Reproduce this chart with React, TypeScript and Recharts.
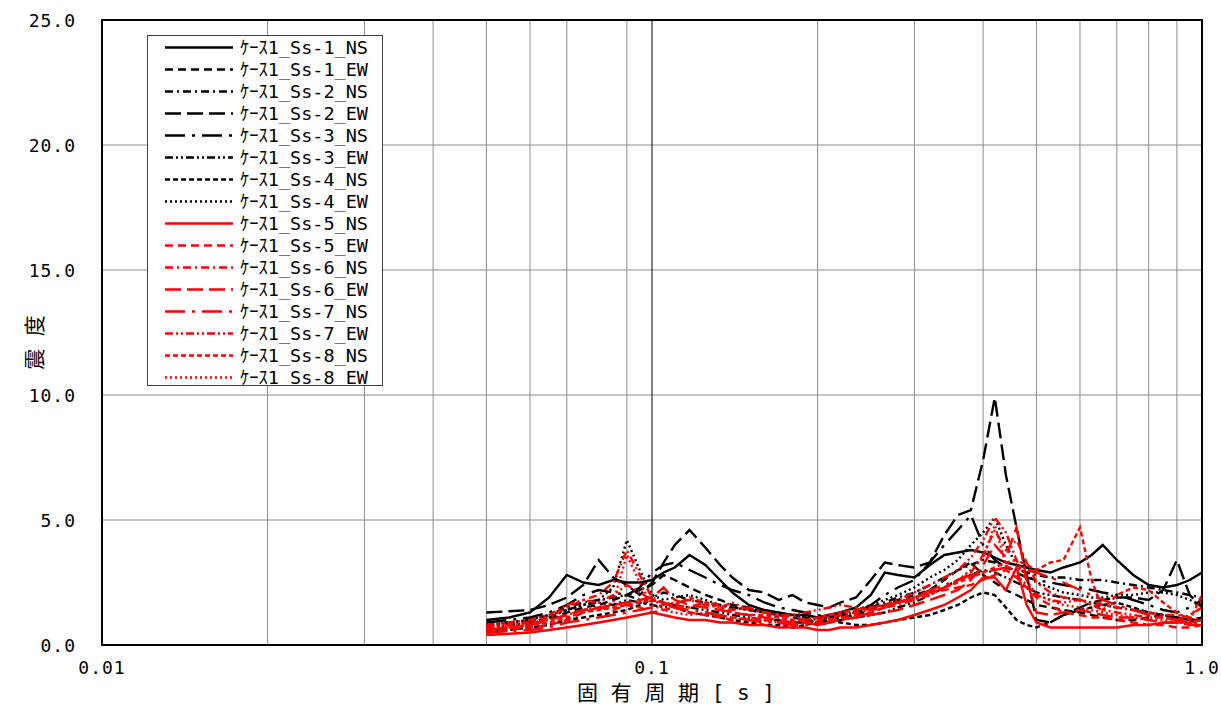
import { LineChart, Line, XAxis, YAxis, CartesianGrid, ReferenceLine, ReferenceArea, Legend } from 'recharts';

const periods = [
  0.05, 0.055, 0.06, 0.065, 0.07, 0.075, 0.08, 0.085, 0.09, 0.095,
  0.1, 0.105, 0.11, 0.117, 0.125, 0.133, 0.14, 0.15, 0.16, 0.17,
  0.18, 0.19, 0.2, 0.21, 0.22, 0.235, 0.25, 0.265, 0.28, 0.3,
  0.32, 0.34, 0.36, 0.38, 0.4, 0.42, 0.44, 0.46, 0.48, 0.5,
  0.53, 0.56, 0.6, 0.63, 0.66, 0.7, 0.75, 0.8, 0.85, 0.9,
  0.95, 1.0,
];

// black series
const ss1NS = [
  1.0, 1.1, 1.3, 1.9, 2.8, 2.5, 2.4, 2.6, 2.5, 2.5,
  2.6, 2.9, 3.1, 3.6, 3.2, 2.6, 2.1, 1.6, 1.4, 1.3,
  1.2, 1.2, 1.1, 1.2, 1.3, 1.5, 2.0, 2.9, 2.8, 2.7,
  3.2, 3.6, 3.7, 3.8, 3.7, 3.5, 3.3, 3.2, 3.1, 3.0,
  2.9, 3.1, 3.3, 3.6, 4.0, 3.4, 2.8, 2.4, 2.3, 2.4,
  2.6, 2.9,
];
const ss1EW = [
  0.6, 0.7, 0.8, 1.0, 1.3, 1.5, 1.6, 1.8, 2.0, 2.2,
  2.4, 2.8, 2.6, 2.3, 2.0, 1.8, 1.6, 1.5, 1.3, 1.2,
  1.1, 1.0, 0.9, 1.0, 1.1, 1.2, 1.4, 1.6, 1.8, 2.0,
  2.2, 2.6, 3.0, 3.3, 2.8, 2.5, 2.2, 2.0, 1.8, 1.6,
  1.5, 1.4, 1.3, 1.2, 1.1, 1.0, 1.0, 1.1, 1.2, 1.1,
  1.0, 1.0,
];
const ss2NS = [
  0.8, 0.9, 1.0, 1.2, 1.5, 1.7, 1.8, 1.9, 2.0, 1.8,
  1.9, 2.1, 2.0, 1.8, 1.7, 1.6, 1.5, 1.4, 1.3, 1.2,
  1.2, 1.1, 1.0, 1.1, 1.2, 1.3, 1.5, 1.7, 1.9, 2.1,
  2.4, 2.7, 3.0, 3.2, 3.4, 3.3, 3.1, 3.0, 2.9, 2.8,
  2.7, 2.7, 2.6, 2.6, 2.6, 2.5, 2.4, 2.3, 2.2, 2.1,
  2.0, 1.9,
];
const ss2EW = [
  1.3, 1.35, 1.4, 1.6, 1.9, 2.4, 3.4, 2.7, 2.4, 2.0,
  2.5, 3.3, 4.0, 4.6, 3.9, 3.2, 2.7, 2.2, 2.1, 1.8,
  2.0, 1.7, 1.6, 1.5, 1.7, 1.9, 2.6, 3.3, 3.2, 3.1,
  3.3, 4.4, 5.2, 5.4, 7.4, 9.9, 6.8, 4.7, 2.8, 1.0,
  0.9, 1.2, 1.5, 1.7, 1.8, 1.9, 1.9, 1.8, 2.2, 3.4,
  2.0, 1.5,
];
const ss3NS = [
  0.9, 1.0, 1.1, 1.3, 1.6, 2.0, 2.2, 2.1, 2.0, 2.3,
  2.9, 3.2, 3.3, 3.0, 2.7, 2.4, 2.2, 2.0, 1.7, 1.5,
  1.4, 1.3, 1.2, 1.1, 1.2, 1.3, 1.6, 2.0, 2.3, 2.6,
  3.3, 4.0, 4.6, 5.2, 4.0, 3.4, 3.1, 2.9, 2.7, 2.6,
  2.5, 2.4, 2.3, 2.2, 2.1, 2.0, 1.8, 1.6, 1.4, 1.3,
  1.5, 1.8,
];
const ss3EW = [
  0.7, 0.8, 0.9, 1.1, 1.4, 1.6, 1.7, 1.6, 1.8, 1.7,
  1.6, 1.5, 1.6, 1.5, 1.4, 1.3, 1.2, 1.1, 1.0, 1.0,
  0.9, 0.9, 0.9, 0.9, 1.0, 1.1, 1.2, 1.3, 1.5, 1.7,
  2.0, 2.3, 2.6, 2.8, 3.0, 2.9, 2.7, 2.5, 2.3, 2.1,
  2.0, 1.9, 1.8, 1.7, 1.6, 1.5, 1.4, 1.3, 1.2, 1.1,
  1.0, 1.0,
];
const ss4NS = [
  0.5, 0.6, 0.7, 0.8, 1.0, 1.1, 1.2, 1.3, 1.4, 1.6,
  1.8, 1.7, 1.5, 1.3, 1.2, 1.1, 1.0, 0.9, 0.8, 0.8,
  0.7, 0.8, 0.9, 1.0, 0.9, 0.8, 0.8, 0.9, 1.0, 1.1,
  1.2, 1.4, 1.6, 1.9, 2.1, 2.0, 1.5, 1.0, 0.8, 0.7,
  0.9, 1.2, 1.4, 1.5, 1.6, 1.7, 1.5, 1.3, 1.2, 1.1,
  1.0, 1.1,
];
const ss4EW = [
  0.8, 0.9, 1.0, 1.2, 1.4, 1.6, 1.8, 2.3, 4.2, 3.0,
  2.0, 1.8, 1.9, 2.0, 1.8, 1.6, 1.5, 1.4, 1.3, 1.2,
  1.2, 1.1, 1.1, 1.2, 1.3, 1.4, 1.6, 1.8, 2.0, 2.3,
  2.7, 3.0, 3.4, 4.0, 4.5, 5.1, 4.0, 3.2, 2.8, 2.5,
  2.3, 2.1, 2.0, 1.9, 1.9, 2.0, 2.0, 2.1, 2.1, 2.0,
  1.8, 1.6,
];

// red series
const ss5NS = [
  0.4, 0.45, 0.5, 0.6, 0.7, 0.8, 0.9, 1.0, 1.1, 1.2,
  1.3, 1.2, 1.1, 1.0, 1.0, 0.9, 0.9, 0.8, 0.8, 0.7,
  0.7, 0.7, 0.6, 0.6, 0.7, 0.7, 0.8, 0.9, 1.0, 1.2,
  1.4, 1.6, 1.9, 2.2, 2.7, 2.7, 2.2, 3.1, 1.6, 0.9,
  0.7, 0.7, 0.7, 0.7, 0.7, 0.7, 0.8, 0.8, 0.9, 0.9,
  0.9, 1.0,
];
const ss5EW = [
  0.5, 0.6, 0.7, 0.8, 1.0, 1.3, 1.5, 1.4, 1.6, 1.5,
  1.3, 1.4, 1.5, 1.3, 1.2, 1.1, 1.0, 1.1, 1.0, 0.9,
  0.8, 0.9, 0.9, 1.0, 1.1, 1.2, 1.3, 1.5, 1.7, 1.9,
  2.1, 2.2, 2.3, 2.4, 2.6, 2.8, 3.0, 2.7, 2.3, 1.9,
  1.6, 1.3, 1.2, 1.1, 1.1, 1.0, 0.9, 0.8, 0.8, 0.7,
  0.7, 0.8,
];
const ss6NS = [
  0.7, 0.8, 0.9, 1.1, 1.5, 1.8, 2.0, 2.5, 3.8, 2.8,
  1.9, 1.7, 1.6, 1.5, 1.7, 1.6, 1.4, 1.5, 1.3, 1.2,
  1.1, 1.0, 1.0, 1.1, 1.2, 1.3, 1.4, 1.5, 1.6, 1.8,
  2.0, 2.3, 2.6, 2.9, 3.6, 4.6, 3.8, 4.2, 3.3, 2.5,
  2.1, 1.9, 1.8, 1.7, 1.6, 1.5, 1.4, 1.3, 1.2, 1.2,
  1.1, 1.0,
];
const ss6EW = [
  0.6, 0.7, 0.8, 1.0, 1.2, 1.4, 1.5, 1.6, 1.7, 1.8,
  1.9, 2.3, 1.8, 1.6, 1.5, 1.4, 1.3, 1.2, 1.1, 1.0,
  0.9, 0.9, 0.8, 0.9, 1.0, 1.1, 1.2, 1.3, 1.4, 1.6,
  1.8, 2.0, 2.2, 2.6, 3.2, 4.0, 3.5, 4.7, 2.6, 1.3,
  1.2, 1.3, 1.4, 1.3, 1.2, 1.1, 1.1, 1.0, 0.9, 0.9,
  0.8, 0.8,
];
const ss7NS = [
  0.5, 0.55, 0.6, 0.7, 0.9, 1.0, 1.1, 1.2, 1.3, 1.4,
  1.5, 1.6, 1.5, 1.4, 1.3, 1.2, 1.1, 1.0, 0.9, 0.9,
  0.8, 0.8, 0.8, 0.9, 1.0, 1.1, 1.3, 1.5, 1.7, 1.9,
  2.2, 2.4, 2.6, 2.8, 2.9, 3.0, 3.1, 3.1, 3.0, 2.9,
  2.7, 2.5, 2.2, 2.0, 1.8, 1.6, 1.4, 1.2, 1.1, 1.0,
  0.9, 0.9,
];
const ss7EW = [
  0.8, 0.9, 1.0, 1.2, 1.6, 1.8, 1.7, 2.0, 2.4, 2.1,
  1.8, 1.6, 1.7, 1.8, 1.6, 1.5, 1.7, 1.4, 1.3, 1.2,
  1.2, 1.3, 1.4, 1.5, 1.6, 1.5, 1.4, 1.6, 1.8, 2.1,
  2.4, 2.7, 3.0, 3.5, 4.2, 5.1, 4.5, 3.4, 2.6, 2.0,
  1.8, 1.7, 1.8, 1.6, 1.4, 1.3, 1.2, 1.1, 1.1, 1.0,
  1.2, 1.5,
];
const ss8NS = [
  0.6, 0.7, 0.8, 0.9, 1.1, 1.3, 1.4, 1.5, 1.6, 1.7,
  1.8, 1.7, 1.6, 1.9, 1.7, 1.5, 1.3, 1.2, 1.2, 1.1,
  1.0, 1.0, 1.1, 1.2, 1.3, 1.4, 1.5, 1.6, 1.7, 1.9,
  2.1, 2.3, 2.5, 2.7, 2.9, 3.1, 3.3, 3.4, 3.2, 3.0,
  3.3, 3.4, 4.7, 2.6, 1.4, 2.0, 2.3, 2.2, 1.7, 1.3,
  1.0, 2.0,
];
const ss8EW = [
  0.7, 0.8, 0.9, 1.0, 1.2, 1.4, 1.5, 1.7, 3.6, 2.5,
  1.6, 1.4, 1.3, 1.2, 1.3, 1.2, 1.1, 1.0, 1.0, 0.9,
  0.9, 1.0, 1.1, 1.2, 1.3, 1.4, 1.5, 1.6, 1.7, 1.8,
  2.0, 2.3, 2.6, 3.0, 3.5, 4.8, 3.2, 2.8, 2.4, 2.0,
  1.8, 1.6, 1.5, 1.4, 1.3, 1.2, 1.1, 1.0, 1.0, 0.9,
  0.9, 0.8,
];

const xTicks = [0.01, 0.1, 1];
const xTickLabels = ['0.01', '0.1', '1.0'];
const yTicks = [0, 5, 10, 15, 20, 25];
const gridPeriods = [
  0.02, 0.03, 0.04, 0.05, 0.06, 0.07, 0.08, 0.09,
  0.2, 0.3, 0.4, 0.5, 0.6, 0.7, 0.8, 0.9,
];
const gridValues = [5, 10, 15, 20];

const BLACK = '#000000';
const RED = '#ff0000';
const FONT = '"DejaVu Sans Mono", "Noto Sans CJK JP", monospace';

// dash patterns, one per wave (NS/EW) slot
const DASH_1EW = '8 5';
const DASH_2NS = '8 4 2 4';
const DASH_2EW = '16 6';
const DASH_3NS = '20 7 3 7';
const DASH_3EW = '8 3 2 3 2 3';
const DASH_4NS = '5 3';
const DASH_4EW = '2 3';

const series = [
  { key: 'ss1NS', name: 'ｹｰｽ1_Ss-1_NS', values: ss1NS, color: BLACK, dash: undefined },
  { key: 'ss1EW', name: 'ｹｰｽ1_Ss-1_EW', values: ss1EW, color: BLACK, dash: DASH_1EW },
  { key: 'ss2NS', name: 'ｹｰｽ1_Ss-2_NS', values: ss2NS, color: BLACK, dash: DASH_2NS },
  { key: 'ss2EW', name: 'ｹｰｽ1_Ss-2_EW', values: ss2EW, color: BLACK, dash: DASH_2EW },
  { key: 'ss3NS', name: 'ｹｰｽ1_Ss-3_NS', values: ss3NS, color: BLACK, dash: DASH_3NS },
  { key: 'ss3EW', name: 'ｹｰｽ1_Ss-3_EW', values: ss3EW, color: BLACK, dash: DASH_3EW },
  { key: 'ss4NS', name: 'ｹｰｽ1_Ss-4_NS', values: ss4NS, color: BLACK, dash: DASH_4NS },
  { key: 'ss4EW', name: 'ｹｰｽ1_Ss-4_EW', values: ss4EW, color: BLACK, dash: DASH_4EW },
  { key: 'ss5NS', name: 'ｹｰｽ1_Ss-5_NS', values: ss5NS, color: RED, dash: undefined },
  { key: 'ss5EW', name: 'ｹｰｽ1_Ss-5_EW', values: ss5EW, color: RED, dash: DASH_1EW },
  { key: 'ss6NS', name: 'ｹｰｽ1_Ss-6_NS', values: ss6NS, color: RED, dash: DASH_2NS },
  { key: 'ss6EW', name: 'ｹｰｽ1_Ss-6_EW', values: ss6EW, color: RED, dash: DASH_2EW },
  { key: 'ss7NS', name: 'ｹｰｽ1_Ss-7_NS', values: ss7NS, color: RED, dash: DASH_3NS },
  { key: 'ss7EW', name: 'ｹｰｽ1_Ss-7_EW', values: ss7EW, color: RED, dash: DASH_3EW },
  { key: 'ss8NS', name: 'ｹｰｽ1_Ss-8_NS', values: ss8NS, color: RED, dash: DASH_4NS },
  { key: 'ss8EW', name: 'ｹｰｽ1_Ss-8_EW', values: ss8EW, color: RED, dash: DASH_4EW },
];

const data = periods.map((p, i) => {
  const row: Record<string, number> = { period: p };
  series.forEach((s) => {
    row[s.key] = s.values[i];
  });
  return row;
});

function YTick({ x, y, payload }: any) {
  return (
    <text x={x} y={y} textAnchor="end" dominantBaseline="central" fontSize={18} fontFamily={FONT} letterSpacing={1} fill="#000">
      {Number(payload.value).toFixed(1)}
    </text>
  );
}

function XTick({ x, y, payload }: any) {
  const i = xTicks.indexOf(payload.value);
  return (
    <text x={x} y={y} textAnchor="middle" dominantBaseline="central" fontSize={18} fontFamily={FONT} letterSpacing={1} fill="#000">
      {i >= 0 ? xTickLabels[i] : payload.value}
    </text>
  );
}

function LegendBox() {
  return (
    <svg width={237} height={352} style={{ display: 'block' }}>
      <rect x={0.5} y={0.5} width={235} height={350} fill="#fff" stroke="#404040" strokeWidth={1} />
      {series.map((s, i) => {
        const cy = 12.5 + i * 22;
        return (
          <g key={s.key}>
            <line x1={18} x2={86} y1={cy} y2={cy} stroke={s.color} strokeWidth={2.6} strokeDasharray={s.dash} />
            <text x={93} y={cy} dominantBaseline="central" fontSize={18.5} fontFamily={FONT} fill="#000">
              {s.name}
            </text>
          </g>
        );
      })}
    </svg>
  );
}

export default function App() {
  return (
    <div style={{ position: 'absolute', left: 0, top: 0, background: '#fff' }}>
      <LineChart width={1221} height={708} data={data} margin={{ top: 20, right: 19, bottom: 33, left: 42 }}>
        <CartesianGrid stroke="#8c8c8c" strokeWidth={1} verticalValues={gridPeriods} horizontalValues={gridValues} />
        <ReferenceLine x={0.1} stroke="#000" strokeWidth={1} />
        <XAxis
          dataKey="period"
          type="number"
          scale="log"
          domain={[0.01, 1]}
          allowDataOverflow
          ticks={xTicks}
          tick={<XTick />}
          tickLine={false}
          axisLine={false}
          tickSize={0}
          tickMargin={22}
          height={30}
          label={{
            content: ({ viewBox }: any) => (
              <text
                x={viewBox.x + viewBox.width / 2 + 24}
                y={viewBox.y + 48}
                textAnchor="middle"
                dominantBaseline="central"
                fontSize={21}
                fontFamily={FONT}
                fill="#000"
              >
                固 有 周 期 [ s ]
              </text>
            ),
          }}
        />
        <YAxis
          type="number"
          domain={[0, 25]}
          ticks={yTicks}
          tick={<YTick />}
          tickLine={false}
          axisLine={false}
          tickSize={0}
          tickMargin={26}
          width={60}
          label={{
            content: ({ viewBox }: any) => {
              const cx = 35;
              const cy = viewBox.y + viewBox.height / 2 + 10;
              return (
                <text
                  x={cx}
                  y={cy}
                  transform={`rotate(-90 ${cx} ${cy})`}
                  textAnchor="middle"
                  dominantBaseline="central"
                  fontSize={21}
                  fontFamily={FONT}
                  fill="#000"
                >
                  震 度
                </text>
              );
            },
          }}
        />
        {series.map((s) => (
          <Line
            key={s.key}
            dataKey={s.key}
            name={s.name}
            type="linear"
            stroke={s.color}
            strokeWidth={2.4}
            strokeDasharray={s.dash}
            dot={false}
            activeDot={false}
            isAnimationActive={false}
          />
        ))}
        <ReferenceArea x1={0.01} x2={1} y1={0} y2={25} fill="none" stroke="#000" strokeWidth={2} ifOverflow="visible" />
        <Legend
          layout="vertical"
          align="center"
          verticalAlign="middle"
          wrapperStyle={{ left: 147, top: 35, width: 237, height: 352 }}
          content={() => <LegendBox />}
        />
      </LineChart>
    </div>
  );
}
